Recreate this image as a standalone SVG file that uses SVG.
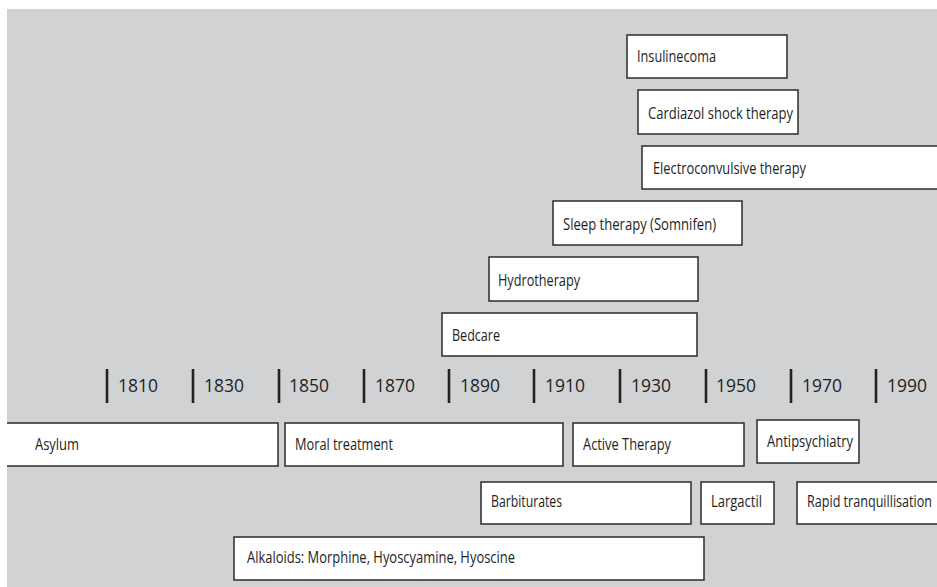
<svg xmlns="http://www.w3.org/2000/svg" width="937" height="587" viewBox="0 0 937 587">
  <style>
    .box rect { fill: #ffffff; stroke: #2b2b2b; stroke-width: 1.5; }
    .box text { font-family: "Open Sans", "Liberation Sans", sans-serif; font-size: 16px; fill: #1e1e1e; }
    .year { font-family: "Open Sans", "Liberation Sans", sans-serif; font-size: 18px; fill: #1e1e1e; }
    .tick { stroke: #222222; stroke-width: 2.6; }
  </style>
  <defs>
    <clipPath id="panel">
      <rect x="7" y="9" width="930" height="578"/>
    </clipPath>
  </defs>
  <rect width="937" height="587" fill="#ffffff"/>
  <rect x="7" y="9" width="930" height="578" fill="#d1d2d4"/>

  <g clip-path="url(#panel)">
    <!-- timeline axis: ticks and decade labels -->
    <g id="axis">
      <line class="tick" x1="107" y1="369" x2="107" y2="403"/>
      <line class="tick" x1="193" y1="369" x2="193" y2="403"/>
      <line class="tick" x1="279" y1="369" x2="279" y2="403"/>
      <line class="tick" x1="364" y1="369" x2="364" y2="403"/>
      <line class="tick" x1="449" y1="369" x2="449" y2="403"/>
      <line class="tick" x1="534" y1="369" x2="534" y2="403"/>
      <line class="tick" x1="620" y1="369" x2="620" y2="403"/>
      <line class="tick" x1="706" y1="369" x2="706" y2="403"/>
      <line class="tick" x1="791" y1="369" x2="791" y2="403"/>
      <line class="tick" x1="876" y1="369" x2="876" y2="403"/>
      <text class="year" x="118" y="392" textLength="40" lengthAdjust="spacingAndGlyphs">1810</text>
      <text class="year" x="204" y="392" textLength="40" lengthAdjust="spacingAndGlyphs">1830</text>
      <text class="year" x="289" y="392" textLength="40" lengthAdjust="spacingAndGlyphs">1850</text>
      <text class="year" x="375" y="392" textLength="40" lengthAdjust="spacingAndGlyphs">1870</text>
      <text class="year" x="460" y="392" textLength="40" lengthAdjust="spacingAndGlyphs">1890</text>
      <text class="year" x="545" y="392" textLength="40" lengthAdjust="spacingAndGlyphs">1910</text>
      <text class="year" x="631" y="392" textLength="40" lengthAdjust="spacingAndGlyphs">1930</text>
      <text class="year" x="716" y="392" textLength="40" lengthAdjust="spacingAndGlyphs">1950</text>
      <text class="year" x="802" y="392" textLength="40" lengthAdjust="spacingAndGlyphs">1970</text>
      <text class="year" x="887" y="392" textLength="40" lengthAdjust="spacingAndGlyphs">1990</text>
    </g>

    <!-- physical treatments above the axis -->
    <g id="insulinecoma" class="box">
      <rect x="627" y="35" width="160" height="43"/>
      <text x="637" y="62" textLength="79" lengthAdjust="spacingAndGlyphs">Insulinecoma</text>
    </g>
    <g id="cardiazol" class="box">
      <rect x="638" y="90" width="160" height="44"/>
      <text x="648" y="119" textLength="145" lengthAdjust="spacingAndGlyphs">Cardiazol shock therapy</text>
    </g>
    <g id="ect" class="box">
      <rect x="642" y="146" width="300" height="43"/>
      <text x="653" y="174" textLength="153" lengthAdjust="spacingAndGlyphs">Electroconvulsive therapy</text>
    </g>
    <g id="sleep" class="box">
      <rect x="553" y="201" width="189" height="44"/>
      <text x="563" y="230" textLength="153" lengthAdjust="spacingAndGlyphs">Sleep therapy (Somnifen)</text>
    </g>
    <g id="hydrotherapy" class="box">
      <rect x="489" y="257" width="209" height="44"/>
      <text x="498" y="286" textLength="82" lengthAdjust="spacingAndGlyphs">Hydrotherapy</text>
    </g>
    <g id="bedcare" class="box">
      <rect x="442" y="313" width="255" height="43"/>
      <text x="452" y="341" textLength="48" lengthAdjust="spacingAndGlyphs">Bedcare</text>
    </g>

    <!-- care regimes and drugs below the axis -->
    <g id="asylum" class="box">
      <rect x="0" y="423" width="278" height="43"/>
      <text x="35" y="450" textLength="44" lengthAdjust="spacingAndGlyphs">Asylum</text>
    </g>
    <g id="moral" class="box">
      <rect x="285" y="423" width="278" height="43"/>
      <text x="295" y="450" textLength="98" lengthAdjust="spacingAndGlyphs">Moral treatment</text>
    </g>
    <g id="active" class="box">
      <rect x="573" y="423" width="171" height="43"/>
      <text x="583" y="450" textLength="88" lengthAdjust="spacingAndGlyphs">Active Therapy</text>
    </g>
    <g id="antipsychiatry" class="box">
      <rect x="757" y="420" width="102" height="43"/>
      <text x="767" y="447" textLength="86" lengthAdjust="spacingAndGlyphs">Antipsychiatry</text>
    </g>
    <g id="barbiturates" class="box">
      <rect x="481" y="482" width="210" height="42"/>
      <text x="491" y="507" textLength="71" lengthAdjust="spacingAndGlyphs">Barbiturates</text>
    </g>
    <g id="largactil" class="box">
      <rect x="701" y="482" width="73" height="42"/>
      <text x="711" y="507" textLength="51" lengthAdjust="spacingAndGlyphs">Largactil</text>
    </g>
    <g id="rapid" class="box">
      <rect x="797" y="482" width="150" height="42"/>
      <text x="807" y="507" textLength="125" lengthAdjust="spacingAndGlyphs">Rapid tranquillisation</text>
    </g>
    <g id="alkaloids" class="box">
      <rect x="234" y="537" width="470" height="43"/>
      <text x="247" y="563" textLength="268" lengthAdjust="spacingAndGlyphs">Alkaloids: Morphine, Hyoscyamine, Hyoscine</text>
    </g>
  </g>
</svg>
